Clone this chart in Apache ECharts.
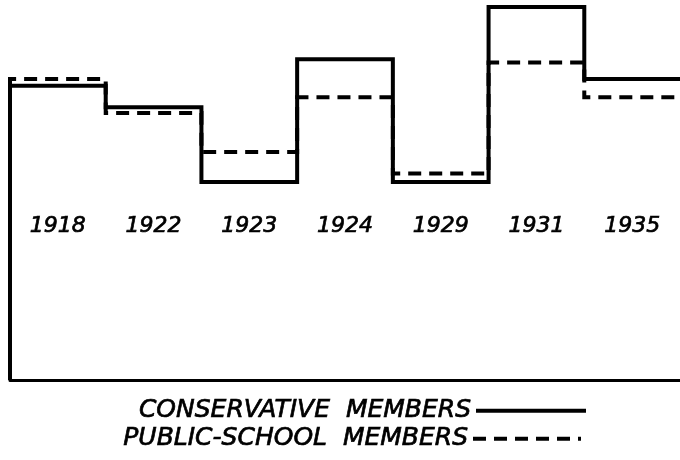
<!DOCTYPE html>
<html>
<head>
    <meta charset="utf-8">
    <script src="https://cdn.jsdelivr.net/npm/echarts@6/dist/echarts.min.js"></script>
    <style>
        html, body { margin: 0; padding: 0; background: #fff; }
        #container { width: 680px; height: 460px; }
    </style>
</head>
<body>
<div id="container"></div>
<script>
    // election years, one step per year
    var years = ['1918', '1922', '1923', '1924', '1929', '1931', '1935'];
    // heights (no scale printed on it)
    var conservative = [375, 349, 259, 407, 259, 470, 383];
    var publicSchool = [383, 342, 295, 361, 269, 403, 361];
    var yMin = 20, yMax = 470;

    // each year is one unit wide on the value axis: start at i, hold to i+1
    function toSteps(vals) {
        var res = [[0, yMin]];
        for (var i = 0; i < vals.length; i++) {
            res.push([i, vals[i]]);
        }
        res.push([vals.length, vals[vals.length - 1]]);
        return res;
    }

    var chart = echarts.init(document.getElementById('container'));
    var font = 'DejaVu Sans';
    var inkText = {
        color: '#000', fontStyle: 'italic', fontFamily: font,
        textBorderColor: '#000', textBorderWidth: 0.7
    };
    var dash = [13, 8];

    var option = {
        backgroundColor: '#fff',
        animation: false,
        grid: { left: 10, right: -6, top: 7, bottom: 80 },
        legend: [{
            data: ['CONSERVATIVE  MEMBERS'],
            right: 87, top: 393,
            align: 'right',
            itemWidth: 110, itemHeight: 28,
            itemStyle: { opacity: 0 },
            lineStyle: { width: 4, color: '#000' },
            textStyle: Object.assign({ fontSize: 25 }, inkText)
        }, {
            data: ['PUBLIC-SCHOOL  MEMBERS'],
            right: 92, top: 421,
            align: 'right',
            itemWidth: 108, itemHeight: 28,
            itemStyle: { opacity: 0 },
            lineStyle: { width: 4, color: '#000', type: dash },
            textStyle: Object.assign({ fontSize: 25 }, inkText)
        }],
        xAxis: [{
            type: 'value',
            min: 0, max: years.length,
            axisLine: { show: true, lineStyle: { color: '#000', width: 3 } },
            axisTick: { show: false },
            axisLabel: { show: false },
            splitLine: { show: false }
        }, {
            type: 'category',
            data: years,
            position: 'bottom',
            offset: -173,
            boundaryGap: true,
            axisLine: { show: false },
            axisTick: { show: false },
            axisLabel: Object.assign({ fontSize: 22, margin: 8 }, inkText),
            splitLine: { show: false }
        }],
        yAxis: {
            type: 'value',
            min: yMin, max: yMax,
            show: false
        },
        series: [{
            name: 'PUBLIC-SCHOOL  MEMBERS',
            type: 'line',
            step: 'end',
            symbol: 'none',
            xAxisIndex: 0,
            z: 2,
            lineStyle: { color: '#000', width: 4, type: dash, join: 'miter' },
            itemStyle: { color: '#000' },
            data: toSteps(publicSchool)
        }, {
            name: 'CONSERVATIVE  MEMBERS',
            type: 'line',
            step: 'end',
            symbol: 'none',
            xAxisIndex: 0,
            z: 3,
            lineStyle: { color: '#000', width: 4, join: 'miter' },
            itemStyle: { color: '#000' },
            data: toSteps(conservative)
        }]
    };

    chart.setOption(option);
</script>
</body>
</html>
